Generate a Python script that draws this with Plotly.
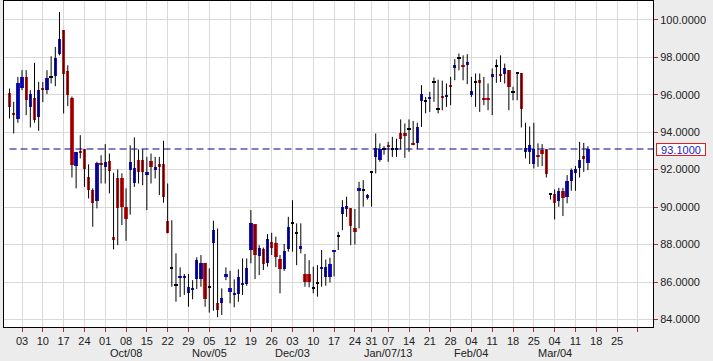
import plotly.graph_objects as go
import pandas as pd

# ---- data ----
opens = [96.10, 95.00, 94.68, 96.38, 96.92, 95.35, 95.83, 94.82, 96.33, 96.24,
         96.92, 96.99, 98.16, 99.44, 97.27, 95.83, 92.20, 92.95, 93.08, 91.58,
         90.91, 90.34, 92.31, 92.15, 92.45, 88.38, 91.56, 91.56, 89.98, 91.97,
         91.30, 92.50, 92.50, 91.71, 92.47, 91.97, 92.28, 92.28, 89.27, 86.70,
         85.79, 86.22, 86.22, 85.40, 85.62, 86.16, 86.16, 87.00, 85.72, 88.10,
         84.86, 84.86, 86.25, 85.48, 85.34, 85.36, 85.88, 85.90, 87.71, 89.08,
         87.39, 87.74, 87.00, 88.15, 88.10, 87.24, 86.68, 87.74, 89.13, 88.60,
         87.74, 86.43, 86.43, 85.66, 85.90, 86.68, 86.28, 86.28, 87.62, 88.42,
         89.63, 89.88, 89.93, 88.90, 90.87, 90.87, 90.46, 91.83, 92.70, 92.54,
         93.08, 93.34, 93.10, 93.10, 93.98, 93.98, 94.14, 93.43, 93.43, 95.67,
         95.65, 95.76, 96.65, 95.23, 95.92, 95.88, 96.50, 97.40, 97.95, 97.60,
         97.61, 95.97, 96.63, 96.77, 95.80, 95.80, 96.92, 97.52, 97.13, 97.13,
         97.31, 96.10, 97.13, 97.16, 92.95, 92.95, 92.29, 92.77, 93.04, 93.08,
         90.68, 90.68, 90.34, 90.85, 90.55, 91.39, 91.80, 92.10, 92.72, 92.33]
highs = [96.33, 95.62, 96.95, 97.31, 97.31, 96.24, 97.70, 96.68, 96.68, 97.31,
         98.05, 98.55, 100.42, 99.44, 97.57, 95.90, 92.95, 93.84, 93.10, 92.28,
         91.00, 92.42, 92.77, 93.36, 92.86, 91.83, 92.01, 91.80, 91.00, 93.30,
         93.72, 93.08, 93.08, 92.68, 92.86, 92.68, 92.68, 93.54, 91.26, 89.30,
         87.53, 86.78, 86.43, 86.43, 86.10, 87.32, 87.44, 87.03, 86.73, 89.27,
         88.86, 85.66, 86.78, 86.60, 86.14, 86.68, 87.26, 87.26, 89.84, 89.08,
         87.97, 87.84, 88.56, 88.63, 88.42, 87.44, 88.03, 89.48, 90.37, 89.13,
         89.13, 87.50, 87.17, 86.82, 86.90, 87.71, 87.20, 87.30, 87.71, 88.68,
         90.37, 90.55, 89.93, 89.90, 91.35, 91.44, 90.70, 91.88, 93.93, 93.40,
         93.25, 93.48, 93.75, 93.65, 94.68, 94.46, 94.68, 94.60, 94.50, 96.51,
         95.88, 96.15, 96.92, 96.80, 96.75, 96.60, 96.95, 97.90, 98.20, 98.10,
         98.16, 96.95, 97.13, 97.13, 96.95, 96.60, 97.40, 97.88, 98.10, 97.66,
         97.31, 96.42, 97.13, 97.16, 94.50, 94.30, 94.50, 93.40, 93.36, 93.08,
         90.70, 90.94, 91.03, 91.03, 91.71, 92.06, 92.19, 93.48, 93.43, 93.25]
lows = [94.73, 93.93, 94.50, 96.24, 94.91, 94.25, 94.50, 94.07, 95.60, 96.03,
        96.60, 96.45, 98.10, 95.00, 95.39, 91.58, 91.00, 92.60, 91.08, 90.46,
        88.95, 89.93, 91.26, 91.26, 90.73, 87.74, 87.97, 89.04, 88.20, 89.60,
        91.08, 91.26, 91.17, 89.84, 91.26, 91.53, 90.64, 90.23, 88.60, 85.75,
        84.95, 85.20, 85.31, 84.68, 85.08, 85.63, 85.75, 84.68, 84.37, 84.47,
        84.12, 84.24, 86.10, 84.86, 84.65, 84.95, 85.31, 85.80, 87.00, 86.16,
        86.37, 86.64, 86.82, 87.44, 86.80, 85.40, 86.60, 87.62, 87.62, 86.90,
        87.53, 85.75, 85.72, 85.40, 85.22, 85.75, 85.80, 85.97, 86.30, 87.71,
        88.77, 89.48, 87.97, 88.00, 88.86, 90.02, 90.40, 90.02, 91.80, 92.42,
        92.80, 92.42, 92.68, 92.68, 93.08, 92.63, 92.95, 93.30, 93.10, 94.28,
        95.00, 95.08, 95.62, 95.00, 95.17, 95.35, 95.44, 96.77, 97.30, 96.77,
        96.56, 95.88, 95.35, 95.08, 95.44, 95.17, 94.91, 96.63, 96.68, 96.60,
        95.17, 95.70, 95.70, 94.25, 92.60, 92.30, 92.06, 92.15, 92.19, 91.58,
        90.40, 89.34, 90.02, 89.52, 90.20, 90.87, 90.87, 91.58, 91.88, 91.97]
closes = [95.35, 94.95, 96.60, 96.92, 95.74, 96.06, 94.64, 96.24, 96.26, 96.90,
          96.92, 97.98, 98.96, 97.13, 95.97, 92.24, 92.92, 92.90, 92.06, 90.91,
          90.20, 92.33, 92.27, 92.42, 91.94, 88.24, 89.93, 90.02, 89.34, 92.42,
          92.10, 91.88, 91.88, 91.88, 92.15, 92.15, 92.19, 90.52, 88.63, 86.70,
          85.79, 86.30, 86.30, 85.75, 85.70, 87.17, 87.03, 85.08, 85.72, 88.77,
          84.50, 85.13, 86.43, 85.66, 85.43, 86.28, 85.96, 86.73, 89.16, 87.44,
          87.80, 86.96, 88.28, 87.80, 87.32, 86.71, 87.67, 88.95, 89.13, 88.60,
          87.95, 86.02, 86.02, 85.66, 85.90, 86.80, 86.80, 86.96, 87.71, 88.42,
          90.02, 90.05, 88.99, 88.68, 91.00, 90.87, 90.64, 91.83, 93.13, 93.08,
          93.08, 93.25, 93.10, 93.10, 93.61, 93.82, 94.14, 93.36, 94.28, 96.06,
          95.65, 95.88, 96.65, 95.23, 95.85, 95.97, 96.45, 97.60, 97.95, 97.52,
          97.72, 96.19, 96.63, 96.63, 95.74, 95.74, 97.08, 97.52, 97.00, 97.45,
          96.42, 96.10, 97.13, 95.26, 93.13, 93.31, 93.08, 92.68, 92.83, 91.76,
          90.68, 90.20, 90.85, 90.50, 91.39, 91.97, 92.06, 92.54, 92.58, 93.10]
last_price = 93.10

first_day = "2012-08-29"
calendar_end = "2013-04-05"
holidays = ["2012-12-25", "2013-01-01"]

tick_dates = ["2012-09-03", "2012-09-10", "2012-09-17", "2012-09-24", "2012-10-01",
              "2012-10-08", "2012-10-15", "2012-10-22", "2012-10-29", "2012-11-05",
              "2012-11-12", "2012-11-19", "2012-11-26", "2012-12-03", "2012-12-10",
              "2012-12-17", "2012-12-24", "2012-12-31", "2013-01-07", "2013-01-14",
              "2013-01-21", "2013-01-28", "2013-02-04", "2013-02-11", "2013-02-18",
              "2013-02-25", "2013-03-04", "2013-03-11", "2013-03-18", "2013-03-25",
              "2013-04-01"]
tick_labels = ["03", "10", "17", "24", "01", "08", "15", "22", "29", "05", "12", "19",
               "26", "03", "10", "17", "24", "31", "07", "14", "21", "28", "04", "11",
               "18", "25", "04", "11", "18", "25", ""]
month_dates = ["2012-10-08", "2012-11-05", "2012-12-03", "2013-01-07", "2013-02-04", "2013-03-04"]
month_labels = ["Oct/08", "Nov/05", "Dec/03", "Jan/07/13", "Feb/04", "Mar/04"]
y_ticks = [84, 86, 88, 90, 92, 94, 96, 98, 100]

# ---- trading-day positions (weekends and holidays skipped) ----
cal = [d.strftime("%Y-%m-%d") for d in pd.bdate_range(first_day, calendar_end)]
cal = [d for d in cal if d not in holidays]
pos = {d: i for i, d in enumerate(cal)}
n = len(opens)
xs = list(range(n))

BLUE = "#1414e6"
RED = "#e61414"
colors = [BLUE if c > o else (RED if c < o else "#000000") for o, c in zip(opens, closes)]
MIN_BODY = 0.07
bases = [min(o, c) for o, c in zip(opens, closes)]
heights = [max(abs(c - o), MIN_BODY) for o, c in zip(opens, closes)]

wx, wy = [], []
for i in range(n):
    wx += [xs[i], xs[i], None]
    wy += [lows[i], highs[i], None]

fig = go.Figure()
fig.add_trace(go.Scatter(x=wx, y=wy, mode="lines", line=dict(color="#000000", width=1),
                         hoverinfo="skip", showlegend=False))
fig.add_trace(go.Bar(x=xs, y=heights, base=bases, width=0.8,
                     marker=dict(color=colors, line=dict(width=0)), showlegend=False))

x_lo, x_hi = -1.33, 154.64
fig.add_trace(go.Scatter(x=[xs[0], x_hi], y=[last_price, last_price], mode="lines",
                         line=dict(color="#00008b", width=1, dash="7px,4px"),
                         hoverinfo="skip", showlegend=False))

font = dict(family="Arial, Liberation Sans, sans-serif", size=11, color="#222222")

fig.update_layout(
    width=713, height=361,
    margin=dict(l=4, r=60, t=1, b=34),
    paper_bgcolor="#ececec", plot_bgcolor="#ffffff",
    font=font, bargap=0, showlegend=False,
    xaxis=dict(range=[x_lo, x_hi], tickmode="array",
               tickvals=[pos[d] for d in tick_dates], ticktext=tick_labels,
               showgrid=True, gridcolor="#d9d9d9", gridwidth=1, zeroline=False,
               showline=True, linecolor="#000000", linewidth=1, mirror=True,
               ticks="outside", ticklen=4, tickcolor="#b03030", tickfont=font),
    yaxis=dict(range=[83.6, 101.0], side="right", tickmode="array",
               tickvals=y_ticks, ticktext=[f"{v:.4f}" for v in y_ticks],
               showgrid=True, gridcolor="#d9d9d9", gridwidth=1, zeroline=False,
               showline=True, linecolor="#000000", linewidth=1, mirror=True,
               ticks="outside", ticklen=4, tickcolor="#b03030", tickfont=font),
)

for d, lab in zip(month_dates, month_labels):
    fig.add_annotation(x=pos[d], xref="x", y=0, yref="paper", yanchor="middle",
                       yshift=-26, text=lab, showarrow=False, font=font)

fig.add_annotation(x=1, xref="paper", y=last_price, yref="y", xanchor="left",
                   xshift=3, text=f"{last_price:.4f}", showarrow=False,
                   font=dict(family="Arial, Liberation Sans, sans-serif", size=11, color="#1a1ac8"),
                   bgcolor="#ffffff", bordercolor="#e02020", borderwidth=1, borderpad=0,
                   width=48, height=11)

fig.write_html("out.html", config={"displayModeBar": False},
               post_script="document.body.style.margin='0';document.body.style.padding='0';"
                           "document.body.style.overflow='hidden';")
